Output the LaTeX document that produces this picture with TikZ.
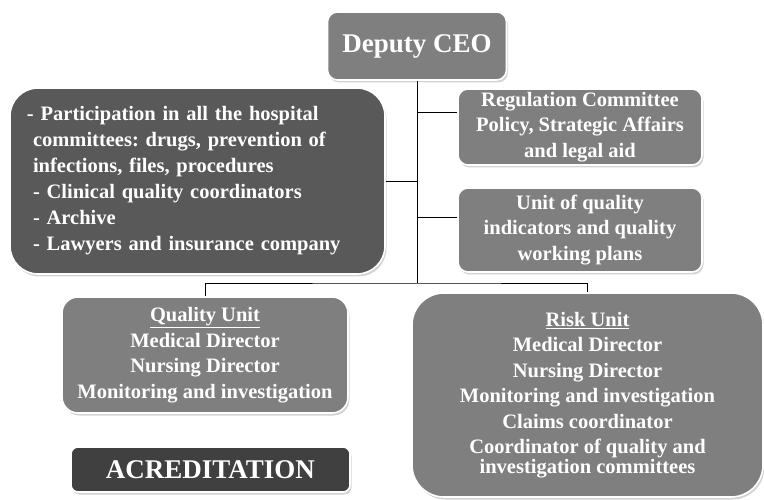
\documentclass[tikz,border=0pt]{standalone}
\usepackage{fontspec}
\setmainfont{Liberation Serif}
\usetikzlibrary{%
  positioning,% wg. " of "
  shadows,%
  backgrounds%
}
\definecolor{unitgray}{HTML}{7F7F7F}
\definecolor{dutygray}{HTML}{595959}
\definecolor{acredgray}{HTML}{404040}
\frenchspacing

\begin{document}
\begin{tikzpicture}
[x=1pt, y=-1pt, line width=0.8pt,
orgbox/.style={rectangle, draw=white, line width=1.6pt, fill=unitgray, text=white,
  align=center, inner sep=0pt, rounded corners=10pt,
  font=\fontsize{20.5}{25.5}\selectfont\bfseries,
  drop shadow={opacity=0.35, shadow xshift=1.5pt, shadow yshift=-2.5pt}},
headbox/.style={orgbox, font=\fontsize{27}{32}\selectfont\bfseries},
link/.style={draw=black, line width=0.9pt}]

\useasboundingbox (0,0) rectangle (764,500);

\node[headbox, minimum width=179pt, minimum height=68pt] (ceo) at (417,46) {Deputy CEO};

\node[orgbox, fill=dutygray, rounded corners=28pt, align=left, inner xsep=23pt,
  text width=329pt, minimum height=186pt, font=\fontsize{20.5}{26}\selectfont\bfseries]
  (duties) at (197.5,181)
  {\hspace*{-6pt}- Participation in all the hospital\\%
   committees: drugs, prevention of\\%
   infections, files, procedures\\%
   - Clinical quality coordinators\\%
   - Archive\\%
   - Lawyers and insurance company};

\node[orgbox, minimum width=244pt, minimum height=76pt] (regulation) at (580,127)
  {Regulation Committee\\Policy, Strategic Affairs\\and legal aid};
\node[orgbox, minimum width=244pt, minimum height=84pt] (indicators) at (580,230)
  {Unit of quality\\indicators and quality\\working plans};

\node[orgbox, rounded corners=16pt, minimum width=286pt, minimum height=116pt] (quality) at (205,355)
  {\underline{Quality Unit}\\Medical Director\\Nursing Director\\Monitoring and investigation};
\node[orgbox, rounded corners=32pt, minimum width=351pt, minimum height=204pt] (risk) at (587.5,395)
  {\underline{Risk Unit}\\Medical Director\\Nursing Director\\Monitoring and investigation\\%
   Claims coordinator\\Coordinator of quality and\\[-6pt]investigation committees};

\node[headbox, fill=acredgray, rounded corners=7pt, minimum width=279pt, minimum height=45pt]
  (acred) at (210.5,469.5) {ACREDITATION};

% connectors
\coordinate (hub) at (417,283);
\coordinate (branch1) at (417,112);
\coordinate (branch2) at (417,181);
\coordinate (branch3) at (417,217);
\draw[link] (ceo) -- (hub);
\draw[link] (quality.north) |- (hub) -| (risk.north);
\draw[link] (branch1) -- (regulation.west |- branch1);
\draw[link] (branch2) -- (duties.east |- branch2);
\draw[link] (branch3) -- (indicators.west |- branch3);
\end{tikzpicture}
\end{document}
